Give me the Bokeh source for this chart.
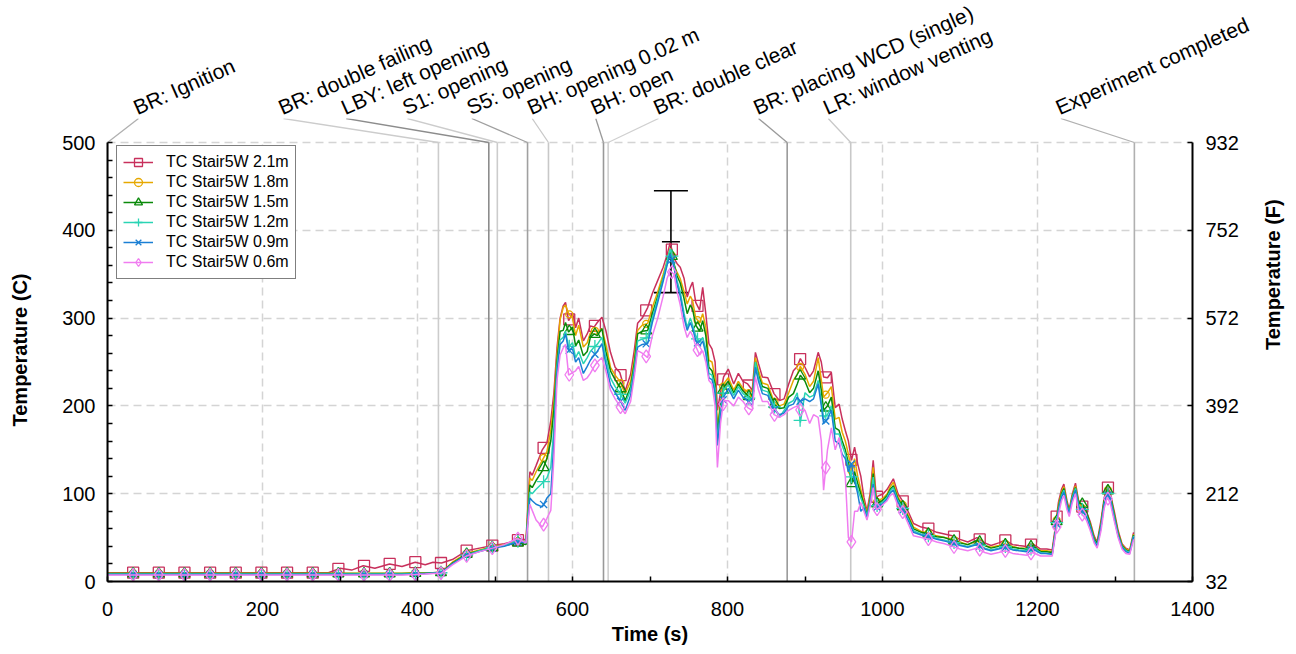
import math
import numpy as np
from bokeh.plotting import figure
from bokeh.layouts import column
from bokeh.core.properties import value
from bokeh.models import (Range1d, LinearAxis, FixedTicker, Whisker,
                          ColumnDataSource, TeeHead)
from bokeh.embed import file_html
from bokeh.resources import INLINE

# ---------------- data ----------------
time_s = [0, 33, 66, 100, 132, 165, 199, 232, 265, 285, 300, 315, 330, 345, 364, 380, 397, 410, 420, 431,
          445, 463, 480, 497, 512, 529, 540,
          545, 548, 553, 561, 567, 572, 576, 580, 584, 588, 591, 595, 600, 604, 608, 614, 619, 623, 628, 632,
          638, 643, 649, 655, 661, 668, 675, 680, 684, 690, 697, 703, 710, 717, 722, 726, 731, 735, 739, 744,
          748, 752, 755, 759, 764, 768, 772, 776, 780, 784, 787, 791, 795,
          801, 808, 814, 820, 826, 832, 836, 840, 845, 852, 860, 867, 873, 879, 885, 890, 894, 900, 906, 911,
          917, 921, 924, 929, 934, 939, 944, 948, 952, 956, 960, 964, 968, 972, 976, 980, 984, 988, 992, 996,
          1001, 1006, 1010, 1014, 1020, 1027, 1034, 1040,
          1050, 1060, 1070, 1080, 1090, 1100, 1110, 1122, 1132, 1140, 1150, 1158, 1168, 1176, 1186, 1194,
          1204, 1212, 1219,
          1223, 1227, 1231, 1234, 1238, 1241, 1245, 1249, 1253, 1258, 1263, 1268, 1273, 1277, 1282, 1286,
          1290, 1294, 1299, 1304, 1309, 1314, 1319, 1324]

tc_2_1m = [10, 10, 10, 10, 10, 10, 10, 10, 10, 10, 15, 13, 18, 15, 20, 17, 22, 19, 22, 21,
           25, 35, 38, 41, 43, 47, 48,
           125, 121, 132, 150, 158, 183, 215, 266, 300, 314, 318, 297, 306, 289, 300, 274, 282, 291, 290, 295,
           301, 286, 261, 244, 238, 217, 236, 265, 294, 300, 312, 328, 343, 358, 372, 386, 368, 362, 358, 345,
           324, 335, 341, 318, 309, 335, 305, 271, 265, 250, 195, 215, 233,
           242, 225, 237, 228, 225, 218, 261, 248, 233, 232, 214, 206, 208, 225, 240, 245, 254, 244, 233, 240,
           261, 250, 233, 232, 238, 198, 202, 185, 172, 160, 138, 153, 134, 120, 96, 80, 100, 138, 96, 98,
           100, 105, 111, 117, 100, 90, 78, 66,
           62, 60, 56, 54, 52, 48, 45, 50, 44, 41, 44, 47, 42, 41, 40, 43, 37, 37, 36,
           62, 90, 105, 111, 92, 82, 100, 112, 92, 85, 80, 68, 52, 45, 70, 95, 109, 100, 80, 58, 43, 38, 36, 56]

tc_1_8m = [9.5, 9.5, 9.5, 9.5, 9.5, 9.5, 9.5, 9.5, 9.5, 9.5, 9.5, 9.5, 9.5, 9.5, 9.5, 9.5, 10, 10, 10, 10.5,
           22, 32, 36, 40, 42, 46, 46,
           118, 115, 125, 138, 148, 172, 205, 258, 298, 312, 315, 305, 300, 280, 292, 267, 272, 283, 286, 284,
           288, 270, 244, 235, 228, 214, 228, 255, 286, 292, 294, 312, 330, 350, 365, 380, 360, 352, 345, 330,
           316, 325, 320, 300, 295, 305, 290, 252, 250, 232, 175, 205, 225,
           232, 218, 228, 220, 216, 210, 255, 240, 226, 224, 205, 200, 202, 215, 229, 236, 245, 236, 222, 228,
           255, 230, 210, 215, 222, 185, 187, 170, 160, 145, 126, 140, 120, 105, 90, 78, 95, 130, 90, 93,
           95, 100, 108, 113, 96, 86, 74, 62,
           57, 55, 52, 50, 48, 45, 42, 46, 41, 39, 41, 43, 40, 38, 38, 40, 35, 35, 34,
           58, 86, 102, 108, 90, 80, 98, 109, 90, 83, 78, 66, 50, 43, 66, 92, 106, 98, 77, 56, 42, 37, 35, 54]

tc_1_5m = [9, 9, 9, 9, 9, 9, 9, 9, 9, 9, 9, 9, 9, 9, 9, 9, 9.5, 9.5, 10, 10.5,
           21, 31, 35, 39, 41, 44, 42,
           110, 107, 115, 126, 140, 160, 195, 250, 285, 286, 295, 284, 290, 268, 275, 257, 262, 278, 282, 280,
           288, 262, 240, 230, 222, 206, 222, 250, 282, 285, 286, 305, 325, 345, 362, 377, 362, 348, 340, 322,
           305, 315, 310, 292, 285, 297, 280, 244, 240, 225, 168, 200, 221,
           228, 215, 225, 217, 212, 207, 250, 235, 222, 220, 202, 197, 198, 210, 214, 225, 235, 228, 215, 220,
           240, 218, 195, 200, 210, 175, 172, 160, 150, 135, 111, 125, 112, 100, 88, 76, 92, 123, 88, 90,
           93, 98, 105, 109, 94, 84, 72, 60,
           56, 54, 51, 50, 47, 44, 42, 47, 41, 38, 40, 42, 39, 38, 37, 41, 34, 34, 33,
           57, 84, 100, 106, 89, 79, 97, 107, 90, 88, 80, 65, 49, 43, 65, 92, 105, 98, 76, 55, 41, 36, 34, 53]

tc_1_2m = [8.5, 8.5, 8.5, 8.5, 8.5, 8.5, 8.5, 8.5, 8.5, 8.5, 8.5, 8.5, 8.5, 8.5, 8.5, 8.5, 9, 9, 9.5, 10,
           20, 30, 35, 39, 41, 46, 45,
           102, 100, 105, 112, 118, 130, 175, 245, 275, 278, 285, 267, 272, 255, 262, 248, 255, 262, 267, 270,
           278, 255, 232, 222, 215, 203, 218, 245, 274, 276, 278, 300, 322, 345, 365, 379, 360, 342, 330, 305,
           289, 300, 292, 280, 272, 278, 265, 237, 235, 220, 160, 195, 218,
           224, 212, 222, 214, 210, 205, 250, 232, 218, 216, 200, 187, 195, 203, 206, 215, 181, 215, 210, 212,
           229, 205, 187, 190, 200, 168, 168, 155, 145, 130, 119, 120, 105, 95, 86, 75, 90, 119, 86, 88,
           91, 96, 103, 107, 92, 82, 70, 58,
           54, 52, 49, 47, 45, 42, 40, 43, 38, 36, 38, 40, 37, 36, 35, 38, 33, 32, 31,
           56, 82, 98, 104, 87, 78, 96, 106, 87, 82, 76, 63, 47, 41, 63, 89, 102, 95, 74, 53, 40, 35, 33, 52]

tc_0_9m = [8, 8, 8, 8, 8, 8, 8, 8, 8, 8, 8, 8, 8, 8, 8, 8, 8.5, 9, 9.5, 10,
           20, 30, 34, 38, 40, 45, 44,
           95, 92, 88, 85, 95, 100, 160, 238, 270, 274, 282, 263, 265, 250, 255, 237, 245, 252, 258, 262,
           271, 248, 224, 215, 207, 195, 212, 240, 267, 270, 271, 295, 318, 342, 360, 373, 358, 338, 325, 300,
           286, 295, 288, 275, 268, 274, 260, 232, 230, 215, 155, 190, 210,
           220, 208, 218, 210, 206, 200, 244, 228, 214, 212, 196, 190, 192, 200, 202, 210, 205, 208, 205, 208,
           225, 200, 180, 185, 195, 160, 157, 145, 140, 125, 134, 115, 100, 80, 84, 72, 88, 111, 84, 86,
           89, 94, 101, 104, 90, 80, 68, 56,
           53, 51, 48, 46, 44, 41, 39, 42, 37, 35, 37, 39, 36, 35, 34, 37, 32, 32, 31,
           55, 80, 96, 102, 86, 77, 94, 104, 85, 80, 74, 62, 46, 40, 62, 87, 100, 93, 72, 52, 39, 34, 32, 51]

tc_0_6m = [7.5, 7.5, 7.5, 7.5, 7.5, 7.5, 7.5, 7.5, 7.5, 7.5, 7.5, 7.5, 7.5, 7.5, 7.5, 7.5, 8, 8.5, 9, 9.5,
           19, 29, 34, 38, 42, 49, 44,
           88, 81, 70, 62, 72, 81, 140, 229, 258, 266, 270, 235, 238, 240, 245, 229, 232, 237, 245, 250,
           255, 240, 218, 208, 200, 191, 205, 235, 263, 260, 255, 280, 300, 325, 345, 354, 350, 330, 315, 290,
           278, 285, 280, 268, 258, 263, 250, 229, 225, 200, 130, 180, 206,
           206, 200, 210, 205, 198, 195, 233, 218, 205, 205, 190, 187, 190, 195, 198, 200, 195, 195, 180, 190,
           187, 160, 104, 150, 175, 150, 164, 140, 120, 50, 45, 80, 80, 90, 80, 70, 86, 107, 82, 84,
           88, 92, 98, 100, 86, 78, 64, 52,
           50, 48, 45, 43, 40, 37, 35, 38, 33, 31, 33, 35, 32, 31, 30, 33, 29, 29, 29,
           52, 76, 92, 98, 82, 74, 90, 100, 80, 76, 70, 58, 44, 38, 58, 83, 96, 89, 69, 50, 37, 32, 31, 48]

series_names = ["TC Stair5W 2.1m", "TC Stair5W 1.8m", "TC Stair5W 1.5m",
                "TC Stair5W 1.2m", "TC Stair5W 0.9m", "TC Stair5W 0.6m"]
series_values = [tc_2_1m, tc_1_8m, tc_1_5m, tc_1_2m, tc_0_9m, tc_0_6m]
marker_interval_s = 33.1

event_times = [0, 427, 492, 503, 542, 569, 640, 646, 877, 959, 1325]
event_label_times = [40, 227, 308, 387, 470, 548, 630, 711, 840, 930, 1230]
event_labels = ["BR: Ignition", "BR: double failing", "LBY: left opening", "S1: opening",
                "S5: opening", "BH: opening 0.02 m", "BH: open", "BR: double clear",
                "BR: placing WCD (single)", "LR: window venting", "Experiment completed"]

err_time = [727]
err_mean = [387]
err_half = [58]

c_ticks = [0, 100, 200, 300, 400, 500]
c_minor = [20, 40, 60, 80, 120, 140, 160, 180, 220, 240, 260, 280, 320, 340, 360, 380, 420, 440, 460, 480]
f_ticks = [32, 212, 392, 572, 752, 932]
x_ticks = [0, 200, 400, 600, 800, 1000, 1200, 1400]
x_minor = [100, 300, 500, 700, 900, 1100, 1300]

# ---------------- styles / layout ----------------
colors = ["#c8305c", "#e6a800", "#0a8a0a", "#2ad4b4", "#1a7fd4", "#f07cf0"]
markers = ["square", "circle", "triangle", "cross", "x", "diamond"]
msizes = [11, 7, 11, 13, 10, 13]
event_colors = ["#b0b0b0", "#cccccc", "#8c8c8c", "#cccccc", "#a0a0a0", "#c8c8c8",
                "#999999", "#d0d0d0", "#9a9a9a", "#c8c8c8", "#b0b0b0"]
FONT = "Liberation Sans"

PAGE_W = 1296
BORDER_L, BORDER_R = 107, 104
FRAME_W = PAGE_W - BORDER_L - BORDER_R      # 1085
STRIP_H = 118                               # label strip above the plot frame
FRAME_H = 463
AXIS_PX = 439                               # pixel height of 0..500 C
C_TOP = 500
X_END = 1400
y_max = C_TOP * FRAME_H / AXIS_PX
sec_per_px = X_END / FRAME_W

# ---------- label strip (top) ----------
top = figure(frame_width=PAGE_W - 2, frame_height=STRIP_H,
             min_border_left=0, min_border_right=0, min_border_top=0, min_border_bottom=0,
             x_range=Range1d(-BORDER_L * sec_per_px, X_END + (BORDER_R - 2) * sec_per_px),
             y_range=Range1d(0, STRIP_H), x_axis_type=None, y_axis_type=None,
             output_backend="svg", toolbar_location=None)
top.outline_line_color = None
top.xgrid.visible = False
top.ygrid.visible = False
top.text(x=event_label_times, y=[10] * len(event_labels), text=event_labels,
         angle=24, angle_units="deg", x_offset=-4,
         text_font=value(FONT), text_font_size="21px", text_color="black",
         text_baseline="alphabetic", text_align="left")

# ---------- main plot ----------
p = figure(frame_width=FRAME_W, frame_height=FRAME_H,
           min_border_left=BORDER_L, min_border_right=BORDER_R, min_border_top=0, min_border_bottom=70,
           x_range=Range1d(0, X_END), y_range=Range1d(0, y_max),
           output_backend="svg", toolbar_location=None)
p.outline_line_color = None
p.background_fill_color = "white"

# keep the two plots independent in the column (no frame alignment)
top.frame_align = False
p.frame_align = False

for ax in [p.xaxis[0], p.yaxis[0]]:
    ax.axis_line_width = 2
    ax.axis_line_color = "black"
    ax.major_tick_in = 5
    ax.major_tick_out = 0
    ax.minor_tick_in = 5
    ax.minor_tick_out = 0
    ax.major_tick_line_width = 1.5
    ax.minor_tick_line_width = 1.5
    ax.major_tick_line_color = "black"
    ax.minor_tick_line_color = "black"
    ax.major_label_text_font = FONT
    ax.major_label_text_font_size = "20px"
    ax.major_label_text_color = "black"
    ax.axis_label_text_font = FONT
    ax.axis_label_text_font_size = "20px"
    ax.axis_label_text_font_style = "bold"
    ax.axis_label_text_color = "black"

p.xaxis.ticker = FixedTicker(ticks=x_ticks, minor_ticks=x_minor)
p.xaxis.axis_label = "Time (s)"
p.xaxis.major_label_standoff = 20
p.xaxis.axis_label_standoff = 4

p.yaxis.ticker = FixedTicker(ticks=c_ticks, minor_ticks=c_minor)
p.yaxis.bounds = (0, C_TOP)
p.yaxis.axis_label = "Temperature (C)"
p.yaxis.major_label_standoff = 12
p.yaxis.axis_label_standoff = 28

p.extra_y_ranges = {"F": Range1d(32, 32 + 1.8 * y_max)}
rax = LinearAxis(y_range_name="F", ticker=FixedTicker(ticks=f_ticks), bounds=(32, 932),
                 axis_label="Temperature (F)")
rax.axis_line_width = 2
rax.axis_line_color = "black"
rax.major_tick_in = 5
rax.major_tick_out = 0
rax.minor_tick_in = 0
rax.minor_tick_out = 0
rax.major_tick_line_width = 1.5
rax.major_tick_line_color = "black"
rax.major_label_text_font = FONT
rax.major_label_text_font_size = "20px"
rax.major_label_text_color = "black"
rax.major_label_standoff = 13
rax.axis_label_text_font = FONT
rax.axis_label_text_font_size = "20px"
rax.axis_label_text_font_style = "bold"
rax.axis_label_text_color = "black"
rax.axis_label_standoff = 31
rax.axis_label_orientation = math.pi / 2
p.add_layout(rax, "right")

p.xgrid.grid_line_color = "#d4d4d4"
p.xgrid.grid_line_dash = "8 5"
p.xgrid.grid_line_width = 1.5
p.xgrid.cross_bounds = (0, C_TOP)
p.ygrid.grid_line_color = "#d4d4d4"
p.ygrid.grid_line_dash = "8 5"
p.ygrid.grid_line_width = 1.5

# event lines and leaders (leaders end at the top edge of the frame, where labels begin)
ev = ColumnDataSource(dict(t=event_times, lt=event_label_times, c=event_colors,
                           y0=[0] * len(event_times), ytop=[C_TOP] * len(event_times),
                           ly=[y_max] * len(event_times)))
p.segment(x0="t", y0="y0", x1="t", y1="ytop", line_color="c", line_width=1.6, source=ev)
p.segment(x0="t", y0="ytop", x1="lt", y1="ly", line_color="c", line_width=1.3, source=ev)

t_arr = np.array(time_s, dtype=float)
marker_t = np.arange(1, int(t_arr.max() // marker_interval_s) + 1) * marker_interval_s
for name, vals, col, mk, ms in zip(series_names, series_values, colors, markers, msizes):
    p.line(time_s, vals, line_color=col, line_width=1.5, legend_label=name)
    mv = np.interp(marker_t, t_arr, np.array(vals, dtype=float))
    p.scatter(marker_t, mv, marker=mk, size=ms, line_color=col, fill_color=None,
              line_width=1.3, legend_label=name)

err_src = ColumnDataSource(dict(t=err_time, m=err_mean,
                                up=[m + h for m, h in zip(err_mean, err_half)],
                                lo=[m - h for m, h in zip(err_mean, err_half)]))
p.add_layout(Whisker(base="t", upper="up", lower="lo", source=err_src, line_color="black",
                     line_width=1.6,
                     upper_head=TeeHead(size=34, line_color="black", line_width=1.6),
                     lower_head=TeeHead(size=34, line_color="black", line_width=1.6)))
p.scatter(x="t", y="m", marker="dash", size=18, line_color="black", line_width=1.6, source=err_src)

lg = p.legend[0]
lg.location = (9, 302)
lg.label_text_font = FONT
lg.label_text_font_size = "16px"
lg.label_text_color = "black"
lg.label_height = 20
lg.glyph_height = 20
lg.glyph_width = 30
lg.label_standoff = 13
lg.spacing = 0
lg.padding = 6
lg.margin = 0
lg.border_line_color = "black"
lg.border_line_width = 1.5
lg.background_fill_alpha = 1

layout = column(top, p, spacing=0)
open("out.html", "w").write(file_html(layout, INLINE))
